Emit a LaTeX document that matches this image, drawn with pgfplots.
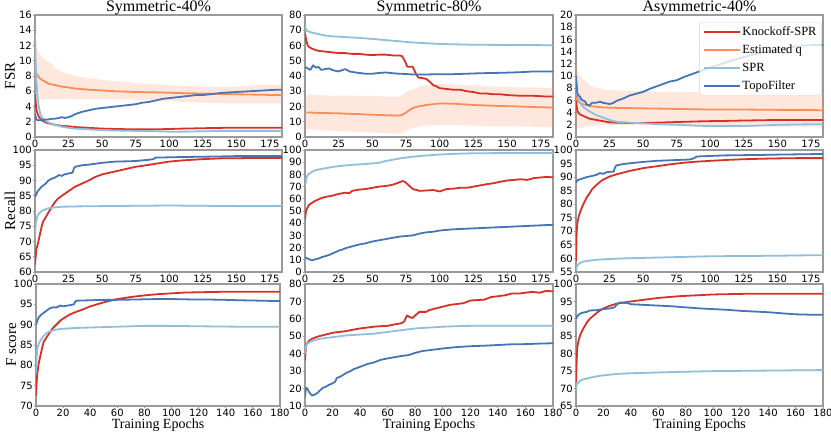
\documentclass[border=0pt]{standalone}
\usepackage{fontspec}
\setmainfont{Liberation Serif}
\newfontfamily\dejavu{DejaVu Sans}
\usepackage{pgfplots}
\pgfplotsset{compat=1.18}
\usepgfplotslibrary{fillbetween}
\definecolor{cKn}{HTML}{D73027}
\definecolor{cEq}{HTML}{FC8D59}
\definecolor{cSp}{HTML}{91BFDB}
\definecolor{cTo}{HTML}{4575B4}
\definecolor{cFr}{HTML}{9A9A9A}
\pgfplotsset{
  panel/.style={
    scale only axis, height=122pt, xmin=0, xmax=184,
    axis line style={cFr, line width=1.1pt},
    tick style={cFr, line width=0.8pt},
    major tick length=2pt, tick pos=left, tick align=outside,
    ticklabel style={font=\dejavu\fontsize{10}{12}\selectfont, inner sep=1pt},
    /pgf/number format/assume math mode=true,
    xtick={0,25,...,175},
    title style={font=\fontsize{16}{16}\selectfont, at={(0.5,1)}, anchor=base, yshift=-3pt, inner sep=0pt},
    ylabel style={font=\fontsize{15}{15}\selectfont, at={(axis description cs:-0.1016,0.5)}, anchor=center},
    xlabel style={font=\fontsize{14}{14}\selectfont, inner sep=1pt},
    every axis plot/.append style={line width=1.8pt, line join=round, no markers},
  },
  kn/.style={cKn}, eq/.style={cEq}, sp/.style={cSp}, to/.style={cTo},
  band/.style={fill=cEq, fill opacity=0.2, draw=none, forget plot},
  bnd/.style={draw=none, forget plot},
  bot/.style={xmax=180, xtick={0,20,...,180}, xlabel={Training Epochs}},
}
\begin{document}
\begin{tikzpicture}
% ---------------- Row 1: FSR ----------------
\begin{axis}[panel, at={(35pt,296pt)}, anchor=south west, width=247pt,
  ymin=0, ymax=16, ytick={0,2,...,16}, title={Symmetric-40\%}, ylabel={FSR}]
\addplot[bnd, name path=u11] coordinates {(0,12.5)(1,12.5)(2,11.5)(3,11)(5,10.5)(7,10.2)(10,9.8)(13,9.5)(15,9.0)(18,8.8)(20,8.5)(25,8.3)(30,8.0)(35,7.9)(40,7.7)(50,7.5)(60,7.3)(70,7.2)(75,7.0)(85,7.0)(100,6.8)(110,6.7)(125,6.6)(140,6.6)(150,6.6)(160,6.7)(170,6.9)(180,6.8)(184,6.9)};
\addplot[bnd, name path=l11] coordinates {(0,5.0)(1,4.8)(5,4.9)(10,5.0)(25,5.0)(50,4.9)(75,4.9)(100,4.7)(110,4.6)(125,4.5)(140,4.4)(150,4.4)(165,4.4)(180,4.4)(184,4.4)};
\addplot[band] fill between[of=u11 and l11];
\addplot[kn] coordinates {(0,5.6)(1,3.6)(2,3.0)(3,2.6)(5,2.2)(8,1.9)(10,1.8)(15,1.6)(20,1.45)(25,1.4)(30,1.3)(40,1.2)(50,1.1)(60,1.05)(75,1.0)(90,1.0)(100,1.05)(110,1.1)(125,1.15)(140,1.2)(150,1.2)(165,1.2)(180,1.2)(184,1.2)};
\addplot[eq] coordinates {(0,8.0)(1,8.3)(2,8.1)(3,7.8)(5,7.5)(8,7.2)(10,7.0)(15,6.8)(20,6.6)(25,6.5)(30,6.35)(40,6.2)(50,6.1)(60,6.0)(75,5.9)(90,5.85)(100,5.8)(110,5.75)(125,5.7)(140,5.65)(150,5.6)(165,5.55)(180,5.5)(184,5.5)};
\addplot[sp] coordinates {(0,13.5)(0.5,10)(1,7.5)(2,5)(3,3.8)(4,3.0)(5,2.6)(7,2.2)(10,1.9)(15,1.6)(20,1.35)(25,1.2)(30,1.1)(40,1.0)(50,0.9)(60,0.85)(75,0.8)(90,0.75)(100,0.7)(110,0.7)(125,0.75)(140,0.8)(150,0.8)(165,0.8)(180,0.8)(184,0.8)};
\addplot[to] coordinates {(0,3.0)(1,2.3)(2,2.2)(5,2.2)(8,2.3)(10,2.3)(13,2.4)(15,2.4)(18,2.5)(20,2.6)(22,2.5)(25,2.6)(28,2.8)(30,3.0)(35,3.3)(40,3.5)(45,3.7)(50,3.8)(55,3.9)(60,4.0)(65,4.1)(70,4.2)(75,4.3)(80,4.5)(85,4.6)(90,4.8)(95,5.0)(100,5.1)(110,5.3)(120,5.5)(125,5.5)(130,5.6)(140,5.8)(150,5.9)(160,6.0)(170,6.1)(180,6.2)(184,6.2)};
\end{axis}
\begin{axis}[panel, at={(305pt,296pt)}, anchor=south west, width=248pt,
  ymin=0, ymax=80, ytick={0,10,...,80}, title={Symmetric-80\%}]
\addplot[bnd, name path=u12] coordinates {(0,26)(3,28)(10,27.5)(20,27)(30,27.3)(40,27)(50,27)(60,26.5)(70,26.5)(73,28)(76,30)(80,31)(85,33)(90,34)(95,34.5)(100,35)(110,34.5)(120,34)(130,33.5)(140,33)(150,33)(160,32.5)(170,32.5)(180,32)(184,32)};
\addplot[bnd, name path=l12] coordinates {(0,5.5)(10,4.5)(20,4)(30,3.5)(40,3.2)(50,3)(60,2.5)(70,2.2)(73,3)(76,5)(80,6)(85,7)(90,7.5)(100,7.7)(110,7.8)(120,7.5)(130,7.3)(140,7)(150,7)(160,6.8)(170,6.7)(180,6.5)(184,6.5)};
\addplot[band] fill between[of=u12 and l12];
\addplot[kn] coordinates {(0,68)(1,63)(2,60)(3,59)(5,58)(8,57)(10,56.5)(15,56)(20,55.5)(25,55)(30,55)(35,54.5)(40,54.5)(45,54)(50,53.7)(55,54)(60,54)(65,53.5)(70,53.5)(72,53)(74,50)(76,46)(78,46)(80,46)(82,42)(84,39)(88,38.5)(90,38)(93,36)(95,34)(98,33)(100,32)(105,31.5)(110,31)(115,31)(120,30)(125,29.5)(130,28.5)(135,28.5)(140,28)(145,28)(150,27.5)(160,27)(170,27)(180,26.5)(184,26.5)};
\addplot[eq] coordinates {(0,16)(5,16)(10,15.8)(20,15.6)(25,15.5)(30,15.3)(40,15)(50,14.6)(60,14.3)(70,14)(72,14.5)(75,16)(78,18)(80,19)(85,20.2)(90,21)(95,21.5)(100,22)(110,21.8)(120,21.3)(125,21)(130,20.8)(140,20.5)(150,20.2)(160,20)(170,19.6)(180,19.4)(184,19.4)};
\addplot[sp] coordinates {(0,72.5)(1,70)(3,69)(5,68.5)(10,67.5)(15,66.5)(20,66)(25,65.8)(30,65.5)(40,65)(50,64.3)(60,63.5)(70,62.8)(75,62.3)(80,62)(90,61.5)(100,61)(110,60.8)(125,60.5)(140,60.4)(150,60.4)(165,60.3)(180,60.2)(184,60.2)};
\addplot[to] coordinates {(0,46)(2,45)(4,44)(6,47)(8,45.5)(10,46)(12,44)(15,44.5)(18,45)(20,44)(22,43.5)(25,43)(28,44)(30,44.5)(33,43)(36,42.5)(40,42)(45,41.5)(50,41.5)(55,42)(60,42.3)(65,41.8)(70,41.5)(75,41.3)(80,41)(90,41)(100,41.2)(110,41.2)(120,41.5)(130,41.8)(140,42)(150,42.2)(160,42.5)(170,43)(180,43)(184,43)};
\end{axis}
\begin{axis}[panel, at={(576pt,296pt)}, anchor=south west, width=247pt,
  ymin=0, ymax=20, ytick={0,2,...,20}, title={Asymmetric-40\%},
  legend cell align=left,
  legend style={at={(0.995,0.94)}, anchor=north east, draw={rgb,255:red,210;green,210;blue,210}, rounded corners=2pt,
    fill=white, fill opacity=0.8, text opacity=1,
    nodes={font=\fontsize{12.5}{12.5}\selectfont, inner sep=2pt, text height=8.5pt, text depth=2.5pt}, row sep=3pt},
  legend image code/.code={\path (-3pt,0pt) -- (33pt,0pt); \draw[#1, line width=2pt] (0pt,0pt) -- (25pt,0pt);}]
\addplot[bnd, name path=u13] coordinates {(0,12)(1,11)(2,10.5)(3,10)(5,9.5)(8,9)(10,8.5)(15,8)(20,7.8)(25,7.7)(30,7.7)(40,7.5)(50,7.6)(60,7.4)(75,7.4)(100,7.3)(125,7.3)(150,7.2)(180,7.2)(184,7.2)};
\addplot[bnd, name path=l13] coordinates {(0,1.5)(3,1.4)(5,1.6)(10,1.8)(15,1.9)(25,2.0)(50,2.0)(75,1.9)(100,1.8)(125,1.8)(150,1.7)(180,1.7)(184,1.7)};
\addplot[band] fill between[of=u13 and l13];
\addplot[kn] coordinates {(0,7)(0.5,5)(1,4.3)(2,3.9)(3,3.7)(5,3.5)(8,3.2)(10,3.0)(15,2.8)(20,2.6)(25,2.4)(30,2.35)(40,2.3)(50,2.3)(60,2.35)(75,2.45)(90,2.55)(100,2.6)(115,2.65)(125,2.7)(140,2.75)(150,2.8)(165,2.8)(180,2.8)(184,2.8)};
\addplot[eq] coordinates {(0,6.5)(1,6)(3,5.6)(5,5.4)(10,5.1)(15,4.95)(20,4.85)(25,4.8)(35,4.75)(50,4.7)(75,4.6)(100,4.5)(125,4.5)(150,4.45)(180,4.4)(184,4.4)};
\addplot[sp] coordinates {(0,9)(0.5,7.5)(1,6.8)(2,6.2)(3,5.7)(5,5.0)(8,4.5)(10,4.2)(15,3.6)(20,3.2)(25,2.8)(30,2.5)(40,2.35)(50,2.25)(60,2.1)(75,2.0)(90,1.85)(100,1.8)(115,1.8)(125,1.8)(140,1.9)(150,2.0)(165,2.05)(180,2.1)(184,2.1)};
\addplot[to] coordinates {(0,10)(1,7.2)(2,6.8)(3,6.6)(4,6.2)(5,6.0)(7,5.8)(8,5.3)(10,5.2)(12,5.6)(15,5.6)(18,5.8)(20,5.6)(23,5.5)(25,5.4)(28,5.6)(30,5.9)(35,6.3)(40,6.8)(45,7.1)(50,7.4)(55,7.9)(60,8.3)(65,8.7)(70,9.1)(75,9.3)(80,9.8)(85,10.2)(90,10.6)(95,11.0)(100,11.4)(110,12.1)(120,12.8)(130,13.4)(140,13.9)(150,14.3)(160,14.7)(170,15.0)(180,15.1)(184,15.1)};
\legend{Knockoff-SPR, Estimated q, SPR, TopoFilter}
\end{axis}
% ---------------- Row 2: Recall ----------------
\begin{axis}[panel, at={(35pt,161pt)}, anchor=south west, width=247pt,
  ymin=60, ymax=100, ytick={60,65,...,100}, ylabel={Recall}]
\addplot[kn] coordinates {(0,62.5)(1,67.5)(2,69)(3,71)(4,73)(5,75)(6,76.5)(8,78)(10,79.5)(12,81)(15,83)(17,84)(20,85)(25,86.5)(30,88)(35,89)(40,90)(45,91.2)(50,92)(55,92.5)(60,93)(70,94)(75,94.5)(80,94.8)(90,95.5)(100,96.2)(110,96.6)(125,97)(140,97.3)(150,97.3)(165,97.4)(180,97.4)(184,97.4)};
\addplot[sp] coordinates {(0,71)(0.5,75)(1,77)(2,78.5)(3,79.2)(5,80)(8,80.6)(10,80.9)(15,81.2)(20,81.4)(30,81.5)(50,81.6)(75,81.7)(100,81.8)(125,81.7)(150,81.6)(180,81.6)(184,81.6)};
\addplot[to] coordinates {(0,84.5)(1,85.5)(2,86.5)(3,87)(5,88)(8,89)(10,90)(12,90.5)(15,91)(18,91.8)(20,91.5)(22,92)(25,92.3)(28,92.6)(29,94)(30,94.5)(35,95)(40,95.2)(45,95.5)(50,95.8)(55,96)(60,96.2)(70,96.3)(75,96.4)(85,96.8)(88,97)(90,97.5)(100,97.6)(110,97.7)(125,97.8)(140,97.9)(150,98)(165,98)(180,98)(184,98)};
\end{axis}
\begin{axis}[panel, at={(305pt,161pt)}, anchor=south west, width=248pt,
  ymin=0, ymax=100, ytick={0,10,...,100}]
\addplot[kn] coordinates {(0,43)(0.5,48)(1,51)(2,53)(3,55)(5,56.5)(7,58)(10,59.5)(12,60.5)(15,61.5)(20,62.5)(25,64)(30,65)(33,64.5)(35,66.5)(40,67.5)(45,68)(50,69)(55,70)(60,70.5)(65,71.5)(70,73.5)(72,74.5)(74,74)(76,72)(78,70)(80,68)(85,66.5)(90,66.8)(95,67.2)(100,66)(105,68)(110,68.3)(115,69)(120,69)(125,70)(130,71)(135,72)(140,72.8)(145,74)(150,75)(155,75.5)(160,76)(165,75.5)(170,77)(175,77.5)(180,78)(184,77.5)};
\addplot[sp] coordinates {(0,70)(1,77)(2,79.5)(3,80.5)(5,82)(8,83.5)(10,84)(15,85)(20,86)(25,86.8)(30,87.3)(35,87.8)(40,88.2)(45,88.5)(50,89)(55,89.5)(60,91)(65,92)(70,93)(75,93.8)(80,94.5)(90,95.5)(100,96.3)(110,96.8)(120,97.2)(135,97.4)(150,97.5)(165,97.5)(180,97.5)(184,97.5)};
\addplot[to] coordinates {(0,12)(1,11.5)(3,10.5)(5,9.5)(8,10.5)(10,11)(12,12)(15,13)(18,14)(20,15)(22,16)(25,17.5)(28,18.5)(30,19.5)(35,21)(40,22.5)(45,23.5)(50,25)(55,26)(60,27)(65,28)(70,29)(75,29.5)(80,30)(85,31.5)(90,32.5)(95,33)(100,34)(110,35)(120,35.5)(130,36)(140,36.5)(150,37)(160,37.5)(170,38)(180,38.5)(184,38.5)};
\end{axis}
\begin{axis}[panel, at={(576pt,161pt)}, anchor=south west, width=247pt,
  ymin=55, ymax=100, ytick={55,60,...,100}]
\addplot[kn] coordinates {(0,59)(0.5,70)(1,73)(2,75.5)(3,77)(5,79.5)(8,82.5)(10,84)(12,85.5)(15,87)(18,88.3)(20,89)(25,90.2)(30,91)(40,92.3)(50,93.3)(60,94)(70,94.7)(80,95.3)(90,95.7)(100,96)(115,96.4)(125,96.6)(140,96.8)(150,96.9)(165,97)(180,97)(184,97)};
\addplot[sp] coordinates {(0,56)(1,57.5)(3,58.3)(5,58.8)(10,59.2)(15,59.5)(25,59.8)(35,60)(50,60.2)(75,60.5)(100,60.8)(125,60.9)(150,61)(165,61.1)(180,61.2)(184,61.2)};
\addplot[to] coordinates {(0,88)(1,88.8)(3,89.2)(5,89.5)(8,90)(10,90.2)(15,90.8)(18,91.5)(20,91.2)(23,91.8)(25,92)(28,92)(29,93.5)(30,94.3)(35,94.8)(40,95.1)(50,95.6)(60,96)(75,96.3)(85,96.5)(88,97)(90,97.6)(100,97.8)(110,98)(125,98.1)(140,98.2)(150,98.3)(165,98.4)(180,98.5)(184,98.5)};
\end{axis}
% ---------------- Row 3: F score ----------------
\begin{axis}[panel, bot, at={(36pt,27pt)}, anchor=south west, width=244pt,
  ymin=70, ymax=100, ytick={70,75,...,100}, ylabel={F score}]
\addplot[kn] coordinates {(0,72.5)(0.5,76)(1,78)(2,80.5)(3,82)(5,85)(6,86)(8,87)(10,88)(12,89)(15,90)(18,91)(20,91.5)(25,92.5)(30,93.2)(35,93.8)(40,94.5)(50,95.5)(60,96.3)(70,96.8)(80,97.2)(90,97.5)(100,97.7)(110,97.9)(125,98)(140,98.1)(150,98.1)(165,98.1)(180,98.1)};
\addplot[sp] coordinates {(0,78)(0.5,82)(1,84)(2,85.3)(3,86)(5,87)(8,88)(10,88.3)(15,88.8)(20,89)(30,89.2)(40,89.3)(60,89.5)(80,89.7)(100,89.7)(120,89.6)(150,89.5)(180,89.5)};
\addplot[to] coordinates {(0,90)(1,91)(2,91.8)(4,92.5)(6,93)(8,93.5)(10,94)(13,94.3)(15,94.2)(18,94.7)(20,94.5)(25,94.8)(28,95)(29,95.7)(30,95.9)(40,96)(50,96.1)(60,96.1)(75,96.2)(90,96.3)(100,96.3)(115,96.2)(125,96.2)(140,96.1)(150,96)(165,95.9)(180,95.8)};
\end{axis}
\begin{axis}[panel, bot, at={(305pt,27pt)}, anchor=south west, width=248pt,
  ymin=10, ymax=80, ytick={10,20,...,80}]
\addplot[kn] coordinates {(0,36)(0.5,42)(1,45)(2,46.5)(3,47.5)(5,48.5)(8,49.5)(10,50)(15,51)(20,52)(25,52.5)(30,53)(35,53.8)(40,54.5)(45,55)(50,55.5)(55,55.8)(60,56)(65,56.8)(70,57.5)(72,58.5)(74,62)(76,61)(78,60.5)(80,62)(83,64)(88,64)(90,65)(95,66)(100,67)(105,68)(110,68.5)(115,69)(120,70.5)(125,70.8)(130,71)(135,72.5)(140,73)(145,73.5)(150,74.5)(155,74.5)(160,75)(165,75.5)(170,75)(175,76)(180,75.8)};
\addplot[sp] coordinates {(0,40)(0.5,43)(1,45)(3,46.5)(5,47.3)(8,48)(10,48.5)(15,49)(20,49.5)(30,50.5)(40,51)(50,51.5)(60,52.5)(70,53.5)(80,54.5)(90,55)(100,55.5)(110,55.8)(120,56)(135,56.1)(150,56.1)(165,56)(180,56)};
\addplot[to] coordinates {(0,15)(0.5,19)(1,20.5)(2,19.5)(3,18)(5,16)(7,16.5)(9,17.5)(11,19)(13,20.5)(15,21)(17,22)(20,23)(22,24)(23,26)(26,27)(28,28)(30,29)(33,30)(35,31)(40,32.5)(45,34)(50,35)(55,36.5)(60,37.3)(65,38)(70,38.7)(75,39.2)(80,40.5)(85,41.5)(90,42)(95,42.5)(100,43)(110,43.8)(120,44.3)(130,44.6)(140,45)(150,45.4)(160,45.5)(170,45.8)(180,46)};
\end{axis}
\begin{axis}[panel, bot, at={(576pt,27pt)}, anchor=south west, width=247pt,
  ymin=65, ymax=100, ytick={65,70,...,100}]
\addplot[kn] coordinates {(0,72)(0.5,78)(1,82)(2,84)(3,85.3)(5,87)(8,89)(10,90)(13,91)(16,92)(20,93)(25,93.8)(30,94.4)(40,95)(50,95.5)(60,96)(75,96.5)(90,96.8)(100,97)(125,97.2)(150,97.2)(180,97.2)};
\addplot[sp] coordinates {(0,70)(0.5,71)(1,71.5)(3,72.2)(5,72.6)(10,73.1)(15,73.5)(20,73.8)(30,74.2)(40,74.4)(50,74.5)(75,74.8)(100,75)(125,75.1)(150,75.2)(180,75.3)};
\addplot[to] coordinates {(0,90)(1,90.8)(3,91.5)(5,91.8)(8,92)(10,92.4)(15,92.5)(20,92.8)(25,93)(28,93.3)(30,94.2)(32,94.7)(35,94.6)(38,94.5)(40,94.2)(50,94)(60,93.8)(70,93.6)(80,93.3)(90,93)(100,92.8)(110,92.6)(120,92.3)(130,92.1)(140,91.9)(150,91.6)(160,91.3)(170,91.2)(180,91.2)};
\end{axis}
\pgfresetboundingbox
\useasboundingbox (0,0) rectangle (831pt,433pt);
\end{tikzpicture}
\end{document}
